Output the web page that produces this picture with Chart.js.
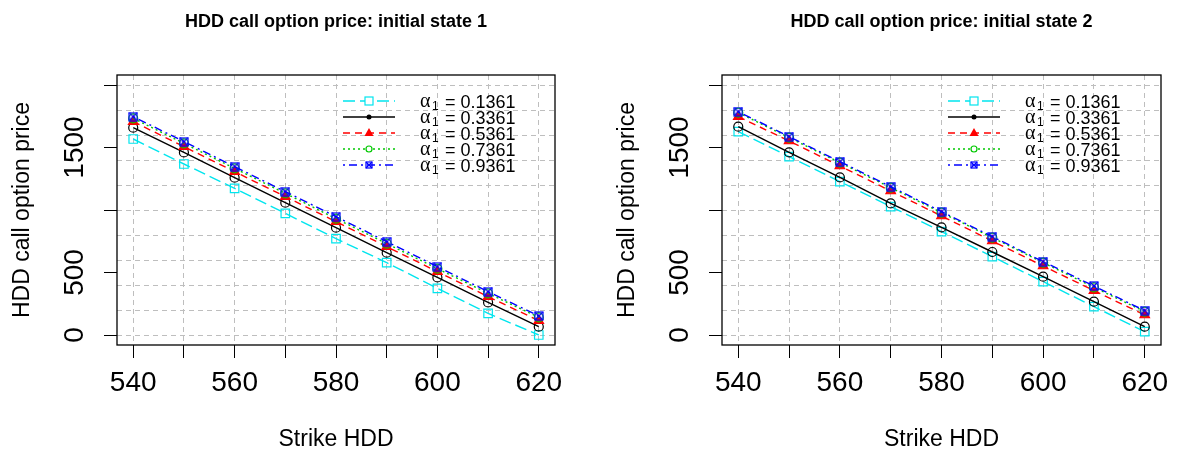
<!DOCTYPE html>
<html>
<head>
<meta charset="utf-8">
<title>HDD call option price</title>
<script src="https://cdn.jsdelivr.net/npm/chart.js@4.4.1/dist/chart.umd.min.js"></script>
<style>
    body { margin: 0; background: #fff; }
    canvas { position: absolute; top: 0; }
</style>
</head>
<body>
<canvas id="chart1" width="605" height="454" style="left:0"></canvas>
<canvas id="chart2" width="572" height="454" style="left:605px"></canvas>
<script>
// Data
const strikes = [540, 550, 560, 570, 580, 590, 600, 610, 620];
const xTickLabels = [540, 560, 580, 600, 620];
const yTicks = [0, 500, 1000, 1500, 2000];
const yTickLabels = [0, 500, 1500];
const yGridLines = [0, 200, 400, 600, 800, 1000, 1200, 1400, 1600, 1800, 2000];
const alphaValues = ['0.1361', '0.3361', '0.5361', '0.7361', '0.9361'];

// initial state 1
const s1a1 = [1568, 1368, 1173, 973, 771, 579, 373, 173, 0];
const s1a2 = [1659, 1461, 1259, 1059, 859, 659, 461, 261, 67];
const s1a3 = [1707, 1507, 1307, 1107, 907, 707, 507, 307, 115];
const s1a4 = [1733, 1533, 1333, 1133, 931, 731, 531, 333, 141];
const s1a5 = [1747, 1547, 1347, 1147, 947, 747, 547, 347, 152];

// initial state 2
const s2a1 = [1627, 1427, 1227, 1027, 827, 627, 427, 227, 27];
const s2a2 = [1667, 1461, 1261, 1053, 861, 664, 467, 267, 67];
const s2a3 = [1747, 1552, 1352, 1152, 952, 752, 552, 355, 160];
const s2a4 = [1779, 1579, 1379, 1179, 979, 779, 579, 381, 187];
const s2a5 = [1787, 1587, 1387, 1187, 987, 787, 587, 392, 195];

const FONT = "'Liberation Sans', Arial, Helvetica, sans-serif";
const GRID = '#BEBEBE';

// square with a cross, like R's pch 7
function boxCross(size, color) {
    const c = document.createElement('canvas');
    c.width = size; c.height = size;
    const g = c.getContext('2d');
    g.strokeStyle = color;
    g.lineWidth = 1.2;
    g.strokeRect(1, 1, size - 2, size - 2);
    g.beginPath();
    g.moveTo(1, 1); g.lineTo(size - 1, size - 1);
    g.moveTo(size - 1, 1); g.lineTo(1, size - 1);
    g.stroke();
    return c;
}
const blueMark = boxCross(10, '#0000FF');
const blueMarkSmall = boxCross(8, '#0000FF');

// line and marker style per series
const styles = [
    { color: '#00E5EE', dash: [12, 5], point: 'rect', radius: 6, fill: 'transparent', legend: 'square' },
    { color: '#000000', dash: [], point: 'circle', radius: 4.5, fill: 'transparent', legend: 'dot' },
    { color: '#FF0000', dash: [7, 5], point: 'triangle', radius: 5.5, fill: '#FF0000', legend: 'triangle' },
    { color: '#00C800', dash: [2, 3], point: 'circle', radius: 4.5, fill: 'transparent', legend: 'ring' },
    { color: '#0000FF', dash: [2, 4, 8, 4], point: blueMark, radius: 5, fill: 'transparent', legend: 'boxx' }
];

function buildDatasets(series) {
    return series.map((values, i) => ({
        label: 'alpha1 = ' + alphaValues[i],
        data: strikes.map((s, k) => ({ x: s, y: values[k] })),
        borderColor: styles[i].color,
        borderDash: styles[i].dash,
        borderWidth: 1.4,
        pointStyle: styles[i].point,
        pointRadius: styles[i].radius,
        pointBorderWidth: 1.2,
        pointBorderColor: styles[i].color,
        pointBackgroundColor: styles[i].fill,
        legendMarker: styles[i].legend,
        alphaText: alphaValues[i],
        tension: 0,
        fill: false,
        order: series.length - 1 - i
    }));
}

// box round the plot region and rotated y tick labels
const framePlugin = {
    id: 'frame',
    afterDraw(chart) {
        const ctx = chart.ctx;
        const a = chart.chartArea;
        ctx.save();
        ctx.strokeStyle = '#000';
        ctx.lineWidth = 1.3;
        ctx.strokeRect(a.left, a.top, a.right - a.left, a.bottom - a.top);

        const y = chart.scales.y;
        ctx.fillStyle = '#000';
        ctx.font = '28px ' + FONT;
        ctx.textAlign = 'center';
        ctx.textBaseline = 'middle';
        yTickLabels.forEach(v => {
            ctx.save();
            ctx.translate(y.right - 42, y.getPixelForValue(v));
            ctx.rotate(-Math.PI / 2);
            ctx.fillText(String(v), 0, 0);
            ctx.restore();
        });
        ctx.restore();
    }
};

// legend in the top right of the plot, no box
const legendPlugin = {
    id: 'rLegend',
    afterDraw(chart) {
        const ctx = chart.ctx;
        const a = chart.chartArea;
        ctx.save();
        chart.data.datasets.forEach((ds, i) => {
            const cy = a.top + 26 + 16 * i;
            const x1 = a.left + 226, x2 = a.left + 278, xm = (x1 + x2) / 2;
            ctx.strokeStyle = ds.borderColor;
            ctx.fillStyle = ds.borderColor;
            ctx.lineWidth = 1.4;
            ctx.setLineDash(ds.borderDash);
            ctx.beginPath();
            ctx.moveTo(x1, cy); ctx.lineTo(x2, cy);
            ctx.stroke();
            ctx.setLineDash([]);
            ctx.lineWidth = 1.2;
            if (ds.legendMarker === 'square') {
                ctx.fillStyle = '#fff';
                ctx.fillRect(xm - 4, cy - 4, 8, 8);
                ctx.strokeRect(xm - 4, cy - 4, 8, 8);
            } else if (ds.legendMarker === 'dot') {
                ctx.beginPath(); ctx.arc(xm, cy, 2.5, 0, Math.PI * 2); ctx.fill();
            } else if (ds.legendMarker === 'triangle') {
                ctx.beginPath();
                ctx.moveTo(xm, cy - 5); ctx.lineTo(xm + 4.5, cy + 3); ctx.lineTo(xm - 4.5, cy + 3);
                ctx.closePath(); ctx.fill();
            } else if (ds.legendMarker === 'ring') {
                ctx.fillStyle = '#fff';
                ctx.beginPath(); ctx.arc(xm, cy, 3, 0, Math.PI * 2); ctx.fill(); ctx.stroke();
            } else {
                ctx.drawImage(blueMarkSmall, xm - 4, cy - 4);
            }

            // alpha with subscript 1
            const tx = a.left + 303;
            ctx.fillStyle = '#000';
            ctx.textAlign = 'left';
            ctx.textBaseline = 'alphabetic';
            ctx.font = "20px 'Liberation Serif', 'DejaVu Serif', serif";
            ctx.fillText('\u03B1', tx, cy + 6);
            ctx.font = '12px ' + FONT;
            ctx.fillText('1', tx + 12, cy + 9);
            ctx.font = '18px ' + FONT;
            ctx.fillText('= ' + ds.alphaText, tx + 25, cy + 6.5);
        });
        ctx.restore();
    }
};

function makeChart(id, titleText, series, rightPad) {
    return new Chart(document.getElementById(id), {
        type: 'line',
        data: { datasets: buildDatasets(series) },
        options: {
            responsive: false,
            animation: false,
            layout: { padding: { left: 0, right: rightPad, top: 0, bottom: 0 } },
            plugins: {
                legend: { display: false },
                tooltip: { enabled: false },
                title: {
                    display: true,
                    text: titleText,
                    fullSize: false,
                    color: '#000',
                    font: { family: FONT, size: 18, weight: 'bold' },
                    padding: { top: 11, bottom: 42.4 }
                }
            },
            scales: {
                x: {
                    type: 'linear',
                    min: 536.8,
                    max: 623.2,
                    afterBuildTicks: s => { s.ticks = strikes.map(v => ({ value: v })); },
                    afterFit: s => { s.height = 109; },
                    ticks: {
                        autoSkip: false,
                        maxRotation: 0,
                        minRotation: 0,
                        padding: 8,
                        color: '#000',
                        font: { family: FONT, size: 28 },
                        callback: v => xTickLabels.includes(v) ? String(v) : ''
                    },
                    grid: { color: GRID, lineWidth: 1, tickColor: '#000', tickLength: 13, tickWidth: 1, tickBorderDash: [] },
                    border: { display: false, dash: [5, 4] },
                    title: {
                        display: true,
                        text: 'Strike HDD',
                        color: '#000',
                        font: { family: FONT, size: 23 },
                        padding: { top: 0, bottom: 1 }
                    }
                },
                y: {
                    type: 'linear',
                    min: -80,
                    max: 2080,
                    afterBuildTicks: s => { s.ticks = yTicks.map(v => ({ value: v })); },
                    afterFit: s => { s.width = 117; },
                    ticks: { display: false },
                    grid: { drawOnChartArea: false, color: '#000', tickColor: '#000', tickLength: 13, tickWidth: 1 },
                    border: { display: false },
                    title: {
                        display: true,
                        text: 'HDD call option price',
                        color: '#000',
                        font: { family: FONT, size: 23 },
                        padding: { top: 9, bottom: 0 }
                    }
                },
                yGrid: {
                    type: 'linear',
                    position: 'right',
                    min: -80,
                    max: 2080,
                    afterBuildTicks: s => { s.ticks = yGridLines.map(v => ({ value: v })); },
                    afterFit: s => { s.width = 0; },
                    ticks: { display: false },
                    grid: { color: GRID, lineWidth: 1, drawTicks: false },
                    border: { display: false, dash: [5, 4] }
                }
            }
        },
        plugins: [framePlugin, legendPlugin]
    });
}

makeChart('chart1', 'HDD call option price: initial state 1', [s1a1, s1a2, s1a3, s1a4, s1a5], 50);
makeChart('chart2', 'HDD call option price: initial state 2', [s2a1, s2a2, s2a3, s2a4, s2a5], 16);
</script>
</body>
</html>
